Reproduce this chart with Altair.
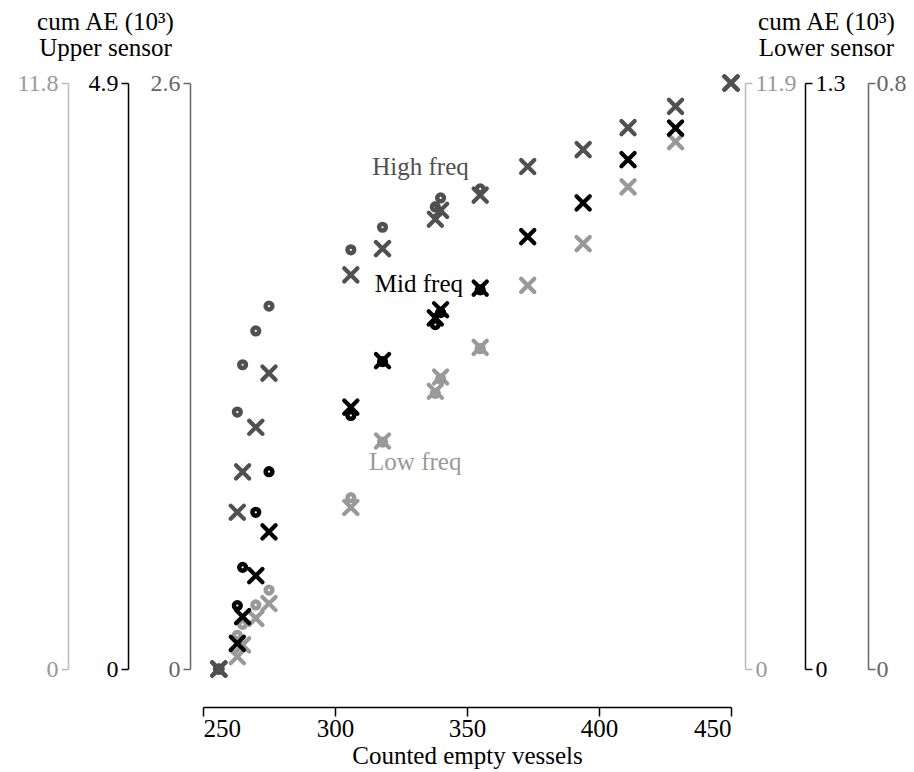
import altair as alt
import pandas as pd

# ---- data ----
vessels_upper = [256, 263, 265, 270, 275, 306, 318, 338, 340, 355]
vessels_lower = [256, 263, 265, 270, 275, 306, 318, 338, 340, 355, 373, 394, 411, 429, 450]

# Upper sensor (circles), cumAE in 10^3
upper_high = [0, 1.14, 1.35, 1.50, 1.61, 1.86, 1.96, 2.05, 2.09, 2.13]
upper_mid = [0, 0.53, 0.85, 1.31, 1.65, 2.12, 2.57, 2.88, 2.98, 3.17]
upper_low = [0, 0.68, 0.90, 1.29, 1.59, 3.45, 4.57, 5.55, 5.84, 6.45]

# Lower sensor (crosses), cumAE in 10^3
lower_high = [0, 0.214, 0.269, 0.330, 0.404, 0.538, 0.574, 0.614, 0.626, 0.647, 0.686, 0.709, 0.739, 0.768, 0.80]
lower_mid = [0, 0.057, 0.116, 0.207, 0.304, 0.581, 0.684, 0.779, 0.797, 0.845, 0.959, 1.034, 1.130, 1.200, 1.30]
lower_low = [0, 0.25, 0.49, 1.03, 1.33, 3.28, 4.63, 5.64, 5.93, 6.53, 7.79, 8.64, 9.79, 10.71, 11.9]

axis_max_upper = {"high": 2.6, "mid": 4.9, "low": 11.8}
axis_max_lower = {"high": 0.8, "mid": 1.3, "low": 11.9}

labels_text = ["High freq", "Mid freq", "Low freq"]
labels_x = [332.4, 331.8, 330.4]
labels_frac = [0.843, 0.643, 0.34]

FONT = "Liberation Serif"
COL = {"high": "#505050", "mid": "#000000", "low": "#999999"}
AXCOL = {"high": "#666666", "mid": "#000000", "low": "#bbbbbb"}
LABCOL = {"high": "#666666", "mid": "#000000", "low": "#999999"}

X_SHAPE = "M-1,-1L1,1M-1,1L1,-1"

x_enc = alt.X(
    "vessels:Q",
    scale=alt.Scale(domain=[250, 450], nice=False, zero=False),
    axis=alt.Axis(
        values=[250, 300, 350, 400, 450],
        offset=38,
        tickSize=9,
        tickWidth=1.5,
        domainWidth=1.5,
        domainColor="#000000",
        tickColor="#000000",
        labelColor="#000000",
        labelFontSize=25,
        labelPadding=0,
        labelFont=FONT,
        grid=False,
        title="Counted empty vessels",
        titleFont=FONT,
        titleFontSize=25,
        titleFontWeight="normal",
        titleColor="#000000",
        titlePadding=2,
    ),
)


def y_axis(level, maxv, orient, offset, title=None, title_x=0, label_pad=3):
    kw = dict(
        orient=orient,
        offset=offset,
        values=[0, maxv],
        format=".1~f",
        grid=False,
        tickSize=7,
        tickWidth=1.5,
        domainWidth=1.5,
        domainColor=AXCOL[level],
        tickColor=AXCOL[level],
        labelColor=LABCOL[level],
        labelFont=FONT,
        labelFontSize=24,
        labelPadding=label_pad,
        labelBaseline="middle",
    )
    if title is not None:
        kw.update(
            title=title,
            titleAngle=0,
            titleAlign="center",
            titleBaseline="alphabetic",
            titleX=title_x,
            titleY=-54,
            titleFont=FONT,
            titleFontSize=25,
            titleFontWeight="normal",
            titleColor="#000000",
            titleLineHeight=26,
        )
    else:
        kw.update(title=None)
    return alt.Axis(**kw)


def series(xs, ys, level, maxv, orient, offset, kind, title=None, title_x=0, label_pad=3):
    df = pd.DataFrame({"vessels": xs, "value": ys})
    if kind == "circle":
        mark = alt.Chart(df).mark_point(shape="circle", filled=False, strokeWidth=4.5,
                                        size=45, opacity=1, color=COL[level])
    else:
        mark = alt.Chart(df).mark_point(shape=X_SHAPE, filled=False, strokeWidth=4.2,
                                        size=175, opacity=1, color=COL[level],
                                        strokeCap="round")
    return mark.encode(
        x=x_enc,
        y=alt.Y("value:Q",
                scale=alt.Scale(domain=[0, maxv], nice=False, zero=True),
                axis=y_axis(level, maxv, orient, offset, title, title_x, label_pad)),
    )


layers = [
    series(vessels_upper, upper_low, "low", axis_max_upper["low"], "left", 135, "circle",
           title=["cum\u2009AE (10³)", "Upper sensor"], title_x=37),
    series(vessels_upper, upper_mid, "mid", axis_max_upper["mid"], "left", 75, "circle"),
    series(vessels_upper, upper_high, "high", axis_max_upper["high"], "left", 13, "circle"),
    series(vessels_lower, lower_low, "low", axis_max_lower["low"], "right", 14, "x",
           title=["cum\u2009AE (10³)", "Lower sensor"], title_x=81),
    series(vessels_lower, lower_mid, "mid", axis_max_lower["mid"], "right", 74, "x"),
    series(vessels_lower, lower_high, "high", axis_max_lower["high"], "right", 137, "x",
           label_pad=1),
]

lab_df = pd.DataFrame({
    "vessels": labels_x,
    "frac": labels_frac,
    "label": labels_text,
    "level": ["high", "mid", "low"],
})
text_layer = alt.Chart(lab_df).mark_text(
    font=FONT, fontSize=25, align="center", baseline="alphabetic"
).encode(
    x=x_enc,
    y=alt.Y("frac:Q", scale=alt.Scale(domain=[0, 1], nice=False), axis=None),
    text="label:N",
    color=alt.Color("level:N",
                    scale=alt.Scale(domain=["high", "mid", "low"],
                                    range=[COL["high"], COL["mid"], COL["low"]]),
                    legend=None),
)

chart = alt.layer(*layers, text_layer).resolve_scale(
    y="independent"
).resolve_axis(
    y="independent"
).properties(
    width=528,
    height=586,
    padding={"left": 195, "top": 75, "right": 175, "bottom": 100},
    autosize=alt.AutoSizeParams(type="none"),
).configure_view(stroke=None)

chart.save("out.html", embed_options={"renderer": "svg", "actions": False})
